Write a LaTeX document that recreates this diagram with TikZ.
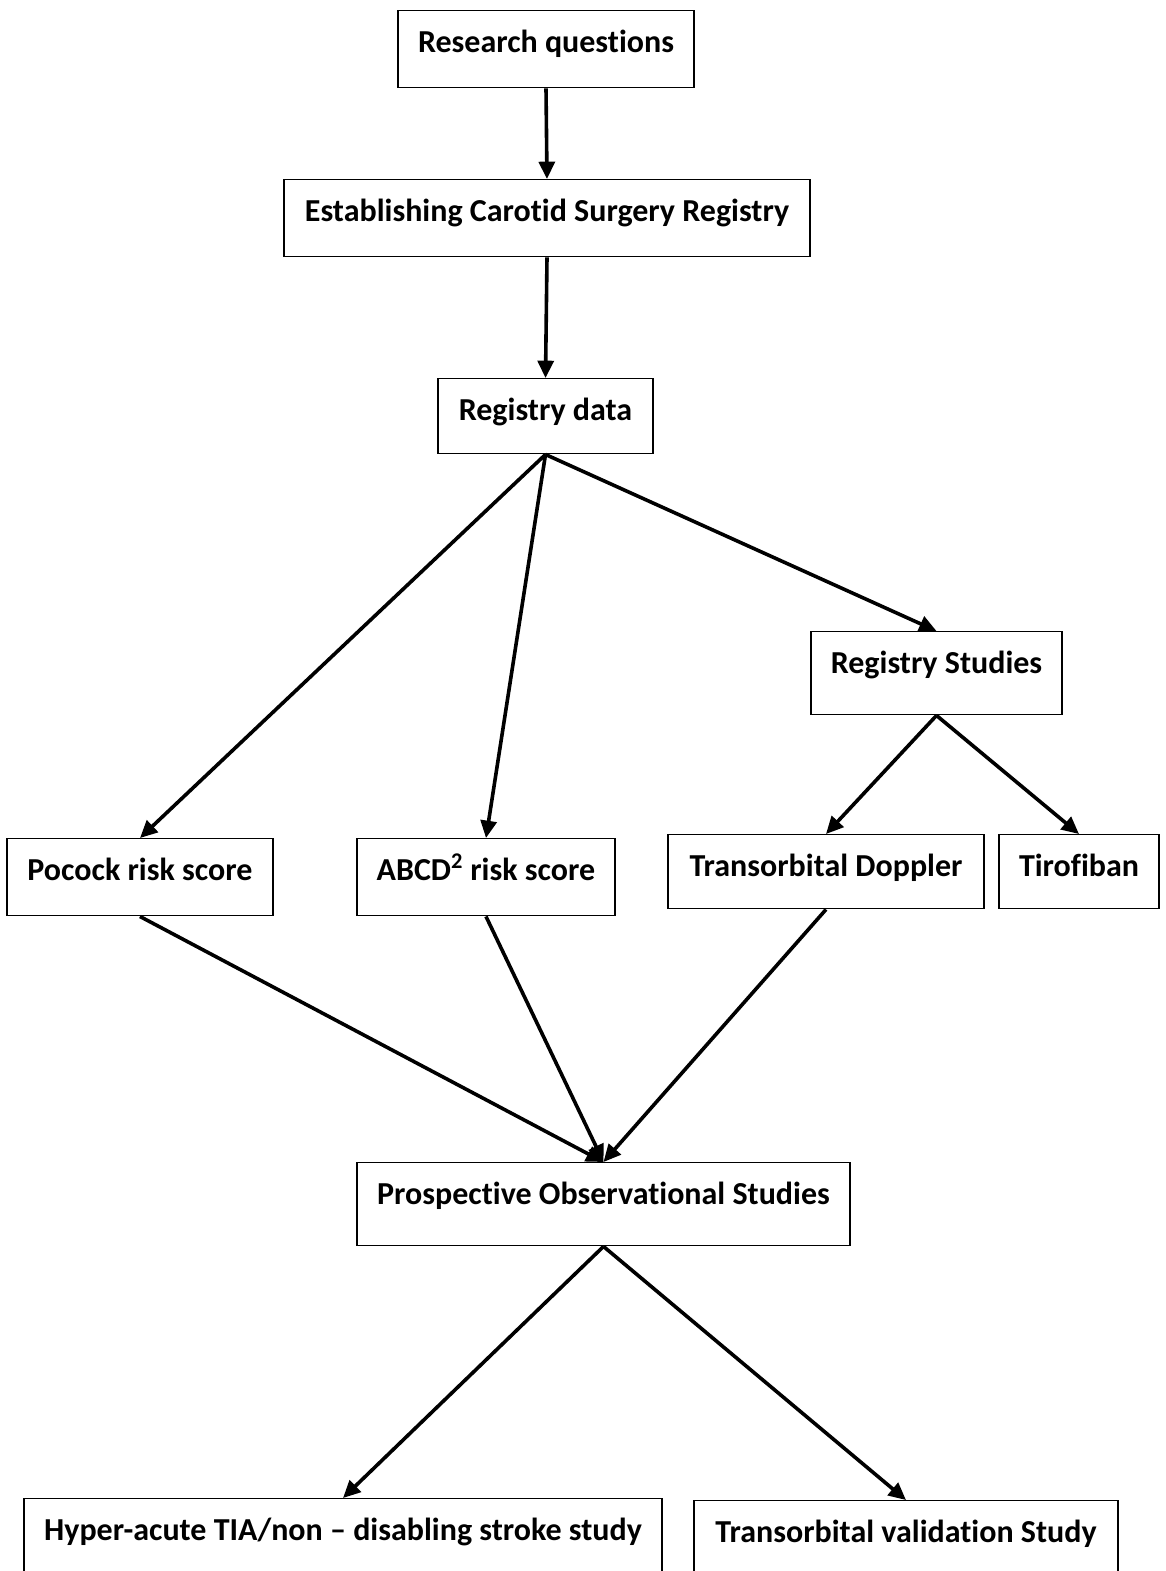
\documentclass[tikz,border=0pt]{standalone}
\usepackage{fontspec}
\setmainfont{Carlito}[Ligatures={NoCommon}]
\usetikzlibrary{arrows.meta}

\tikzset{
	box/.style={draw,line width=1.1pt,anchor=north,inner sep=0pt,text height=31pt,
		font=\fontsize{24pt}{28pt}\selectfont\bfseries,minimum width=#1},
	arr/.style={line width=2.7pt,-{Triangle[length=13pt,width=12pt]}}
}

\begin{document}
\begin{tikzpicture}[x=0.75pt,y=-0.75pt]
	\clip (0,0) rectangle (1166,1571);
	\useasboundingbox (0,0) rectangle (1166,1571);

	% top of the chart
	\node[box=222pt,text depth=26.75pt] (RQ) at (546,10) {Research questions};
	\node[box=394.5pt,text depth=26.75pt] (CSR) at (547,179) {Establishing Carotid Surgery Registry};
	\node[box=161.25pt,text depth=25.25pt] (RD) at (545.5,378) {Registry data};
	\node[box=188.25pt,text depth=31.25pt] (RS) at (936.5,631) {Registry Studies};

	% middle row
	\node[box=199.5pt,text depth=26.75pt] (PRS) at (140,838) {Pocock risk score};
	\node[box=193.5pt,text depth=26.75pt] (ABCD) at (486,838) {ABCD\textsuperscript{2} risk score};
	\node[box=237pt,text depth=24.5pt] (TD) at (826,834) {Transorbital Doppler};
	\node[box=120pt,text depth=24.5pt] (TIR) at (1079,834) {Tirofiban};

	% bottom
	\node[box=369.75pt,text depth=31.25pt] (POS) at (603.5,1162) {Prospective Observational Studies};
	\node[box=478.5pt,text depth=59pt] (HTIA) at (343,1498) {Hyper-acute TIA/non -- disabling stroke study};
	\node[box=318pt,text depth=59pt] (TVS) at (906,1500) {Transorbital validation Study};

	\foreach \a/\b in {RQ/CSR,CSR/RD,RD/PRS,RD/ABCD,RD/RS,RS/TD,RS/TIR,PRS/POS,ABCD/POS,TD/POS,POS/HTIA,POS/TVS}
		\draw[arr] (\a.south) -- (\b.north);
\end{tikzpicture}
\end{document}
